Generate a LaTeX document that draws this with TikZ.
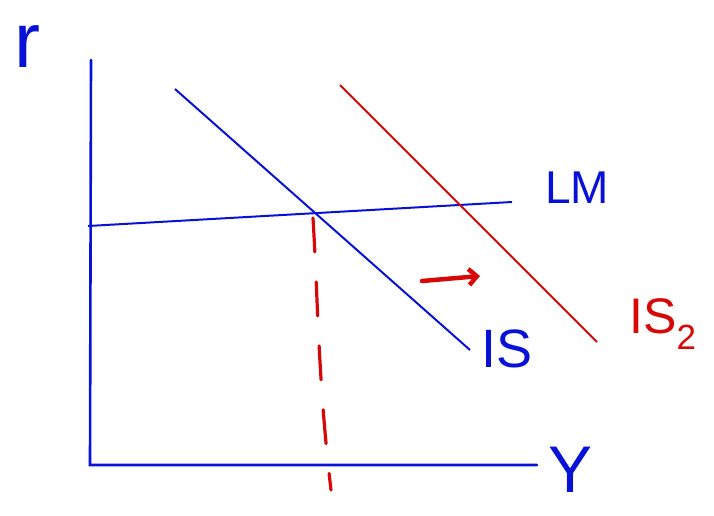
\documentclass[tikz,border=0pt]{standalone}
\usepackage{fontspec}
\setmainfont{Liberation Sans}
\usetikzlibrary{arrows.meta}
\definecolor{inkblue}{RGB}{8,18,214}
\definecolor{inkred}{RGB}{214,8,8}
\tikzset{
  axisline/.style={draw=inkblue, line width=2.6pt},
  curveblue/.style={draw=inkblue, line width=2pt},
  curvered/.style={draw=inkred, line width=2pt},
  bluelabel/.style={text=inkblue, inner sep=0pt, anchor=center},
  redlabel/.style={text=inkred, inner sep=0pt, anchor=center},
}
\begin{document}
\begin{tikzpicture}[x=1pt,y=-1pt]
\useasboundingbox (0,0) rectangle (714,515);
% axes
\coordinate (ytop) at (91,60);
\coordinate (orig) at (90,465);
\coordinate (xend) at (537,465);
\draw[axisline, line cap=round] (ytop) -- (orig) -- (xend);
% LM
\coordinate (lm1) at (88,226);
\coordinate (lm2) at (512,202);
\draw[curveblue] (lm1) -- (lm2);
% IS
\coordinate (is1) at (175,89);
\coordinate (is2) at (470,350);
\draw[curveblue] (is1) -- (is2);
% IS shifted
\coordinate (isr1) at (340,85);
\coordinate (isr2) at (597,342);
\draw[curvered] (isr1) -- (isr2);
% arrow
\coordinate (ar1) at (422,281);
\coordinate (ar2) at (480,276);
\draw[draw=inkred, line width=4.5pt, line cap=round, -{Straight Barb[length=8pt,width=16pt,line width=4.5pt]}] (ar1) -- (ar2);
% dashed drop line
\coordinate (d1) at (313,218);
\coordinate (d2) at (331,490);
\draw[draw=inkred, line width=3.2pt, line cap=round, dash pattern=on 34pt off 30pt]
  (d1) .. controls (318,300) and (318,380) .. (d2);
% labels
\node[bluelabel, font=\fontsize{78}{78}\selectfont] (rlab) at (27,47) {r};
\node[bluelabel, font=\fontsize{46}{46}\selectfont] (lmlab) at (577,188) {LM};
\node[bluelabel, font=\fontsize{54}{54}\selectfont] (islab) at (507,349) {IS};
\node[redlabel, font=\fontsize{50}{50}\selectfont] (is2lab) at (663,324) {IS\textsubscript{2}};
\node[bluelabel, font=\fontsize{66}{66}\selectfont] (ylab) at (571,470) {Y};
\end{tikzpicture}
\end{document}
